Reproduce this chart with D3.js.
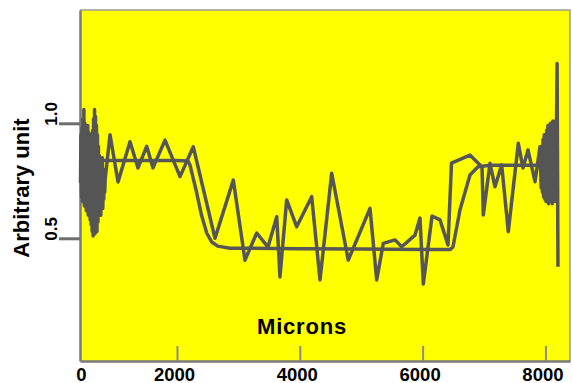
<!DOCTYPE html>
<html>
<head>
<meta charset="utf-8">
<script src="https://cdn.jsdelivr.net/npm/d3@7"></script>
<style>
  html, body { margin: 0; padding: 0; background: #fff; }
  svg { display: block; }
  text { font-family: "Liberation Sans", Arial, sans-serif; font-weight: bold; fill: #000; }
</style>
</head>
<body>
<svg id="chart" width="572" height="383"></svg>
<script>
// ---------- data ----------
const xTickValues = [0, 2000, 4000, 6000, 8000];
const xTickLabels = ["0", "2000", "4000", "6000", "8000"];
const yTickValues = [0.5, 1.0];
const yTickLabels = ["0.5", "1.0"];

// noisy measured profile
const measuredX = [10, 20, 30, 40, 50, 60, 70, 80, 90, 100, 110, 120, 130, 140, 150, 160, 170, 180, 190, 200,
  210, 220, 230, 240, 250, 260, 270, 280, 290, 300, 310, 320, 330, 340, 350, 360, 370, 380, 390, 400,
  410, 420, 430, 440, 450, 460, 470, 480, 490, 500, 510, 520,
  619, 784, 1031, 1196, 1375, 1505, 1753, 2049, 2265, 2619, 2917, 3107, 3298, 3482, 3624, 3677, 3786, 3949, 4193, 4329, 4519, 4789,
  5143, 5252, 5359, 5550, 5659, 5876, 5957, 6011, 6153, 6283, 6413, 6470, 6771, 6967, 6988, 7097, 7178, 7287, 7395, 7558, 7634,
  7716, 7830, 7911,
  7930, 7940, 7950, 7960, 7970, 7980, 7990, 8000, 8010, 8020, 8030, 8040, 8050, 8060, 8070, 8080, 8090, 8100,
  8110, 8120, 8130, 8140, 8150, 8160, 8170, 8180, 8190, 8204];
const measuredY = [0.74, 0.95, 0.68, 0.98, 0.66, 1.02, 0.70, 1.06, 0.64, 1.00, 0.67, 0.97, 0.62, 0.94, 0.66, 0.99, 0.60, 0.96, 0.63, 0.92,
  0.58, 0.95, 0.56, 0.90, 0.53, 0.97, 0.51, 1.02, 0.54, 1.06, 0.52, 1.03, 0.55, 0.99, 0.53, 0.95, 0.57, 0.90, 0.60, 0.86,
  0.64, 0.84, 0.60, 0.82, 0.66, 0.85, 0.63, 0.80, 0.67, 0.78, 0.70, 0.76,
  0.95, 0.745, 0.92, 0.806, 0.90, 0.806, 0.927, 0.768, 0.898, 0.50, 0.753, 0.405, 0.523, 0.462, 0.594, 0.332, 0.667, 0.55, 0.681, 0.319, 0.783, 0.405,
  0.63, 0.319, 0.478, 0.493, 0.463, 0.514, 0.588, 0.301, 0.597, 0.58, 0.471, 0.827, 0.862, 0.81, 0.601, 0.826, 0.724, 0.819, 0.529, 0.913, 0.806,
  0.884, 0.746, 0.898,
  0.72, 0.90, 0.70, 0.93, 0.68, 0.95, 0.67, 0.92, 0.66, 0.97, 0.67, 0.99, 0.65, 0.96, 0.66, 1.00, 0.67, 0.97,
  0.65, 1.01, 0.67, 0.98, 0.66, 1.01, 0.68, 0.99, 1.26, 0.376];

// smooth fitted profile
const fitX = [0, 1000, 2000, 2179, 2210, 2310, 2400, 2484, 2565, 2663, 2863, 4000, 5000, 6000, 6446, 6494, 6608, 6771, 6902, 7100, 8000, 8204];
const fitY = [0.838, 0.838, 0.838, 0.836, 0.82, 0.71, 0.60, 0.523, 0.484, 0.466, 0.457, 0.455, 0.453, 0.451, 0.451, 0.462, 0.623, 0.775, 0.811, 0.818, 0.818, 0.818];

// ---------- layout ----------
const svg = d3.select("#chart");
const L = 80, R = 570, T = 10, B = 361;

const x = d3.scaleLinear().domain([0, 2000, 8400]).range([L, 177, R]);
const y = d3.scaleLinear().domain([-0.0335, 1.4926]).range([B, T]);

// plot background
svg.append("rect").attr("x", L).attr("y", T).attr("width", R - L).attr("height", B - T)
  .attr("fill", "#ffff00");

// frame (top/right light)
svg.append("path").attr("d", `M${L},${T}H${R}V${B}`)
  .attr("fill", "none").attr("stroke", "#9a9a9a").attr("stroke-width", 1.5);

// x axis
const xAxis = d3.axisBottom(x).tickValues(xTickValues)
  .tickFormat((d, i) => xTickLabels[i]).tickSizeInner(-15).tickSizeOuter(0).tickPadding(0);
const gx = svg.append("g").attr("transform", `translate(0,${B})`).call(xAxis);
gx.select(".domain").attr("stroke", "#7a7a7a").attr("stroke-width", 2.5);
gx.selectAll(".tick line").attr("stroke", "#8a8a8a").attr("stroke-width", 2)
  .attr("display", d => d === 0 ? "none" : null);
gx.selectAll(".tick text").attr("font-size", 18.5).attr("font-weight", "bold")
  .attr("font-family", "'Liberation Sans', Arial, sans-serif").attr("fill", "#000")
  .attr("y", 19.5).attr("dy", 0).attr("dx", d => d === 0 ? 1 : -3);

// y axis
const yAxis = d3.axisLeft(y).tickValues(yTickValues)
  .tickFormat((d, i) => yTickLabels[i]).tickSizeInner(21).tickSizeOuter(0).tickPadding(0);
const gy = svg.append("g").attr("transform", `translate(${L},0)`).call(yAxis);
gy.select(".domain").attr("stroke", "#7a7a7a").attr("stroke-width", 2.5);
gy.selectAll(".tick line").attr("stroke", "#6e6e6e").attr("stroke-width", 3);
gy.selectAll(".tick text").attr("font-size", 17).attr("font-weight", "bold")
  .attr("font-family", "'Liberation Sans', Arial, sans-serif").attr("fill", "#000")
  .attr("x", 0).attr("dy", 0)
  .attr("text-anchor", "start")
  .attr("transform", "translate(-23,2) rotate(-90)");

// lines
const line = d3.line().x(d => x(d[0])).y(d => y(d[1]));
const fitData = fitX.map((v, i) => [v, fitY[i]]);
const measData = measuredX.map((v, i) => [v, measuredY[i]]);

svg.append("path").datum(fitData).attr("d", line)
  .attr("fill", "none").attr("stroke", "#575757").attr("stroke-width", 3.5)
  .attr("stroke-linejoin", "round");
svg.append("path").datum(measData).attr("d", line)
  .attr("fill", "none").attr("stroke", "#555555").attr("stroke-width", 3.5)
  .attr("stroke-linejoin", "round");

// labels
svg.append("text").attr("x", 302).attr("y", 333.5).attr("text-anchor", "middle")
  .attr("font-size", 22).attr("letter-spacing", 0.8).text("Microns");
svg.append("text").attr("transform", "translate(29,188) rotate(-90)").attr("text-anchor", "middle")
  .attr("font-size", 22).text("Arbitrary unit");
</script>
</body>
</html>
